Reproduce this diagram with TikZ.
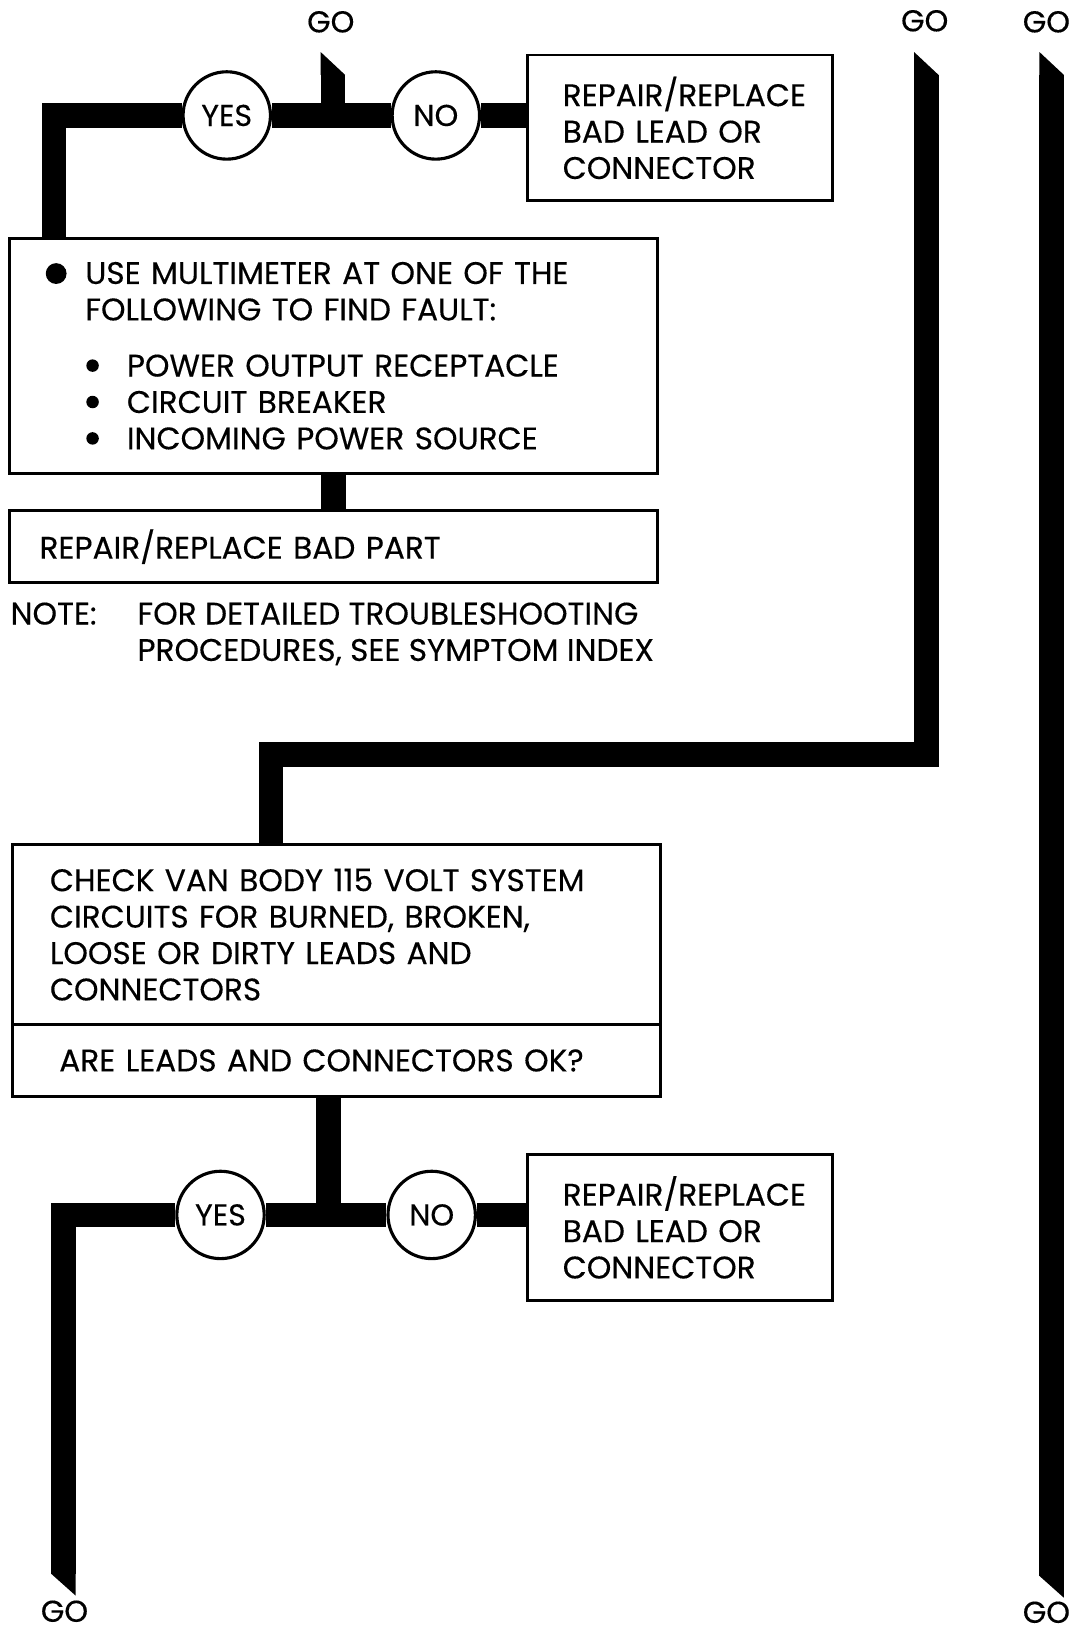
\documentclass[tikz,border=0pt]{standalone}
\usepackage{fontspec}
\setmainfont{Poppins}[FakeBold=0.3]
\newcommand{\bigdot}{\raisebox{0pt}{\tikz\fill (0,0) circle (10pt);}}
\newcommand{\smalldot}{\raisebox{4.5pt}{\tikz\fill (0,0) circle (6pt);}}

\begin{document}
\begin{tikzpicture}[x=1pt,y=-1pt,
  lbl/.style={font=\fontsize{29}{35}\selectfont, inner sep=0pt},
  box/.style={draw, rectangle, line width=2.6pt, outer sep=0pt, inner ysep=0pt,
    align=left, font=\fontsize{30}{35}\selectfont},
  ans/.style={draw, circle, line width=3pt, fill=white, minimum size=84pt,
    inner sep=0pt, font=\fontsize{29}{30}\selectfont},
  bus/.style={line width=23.5pt}]
\path[use as bounding box] (0,0) rectangle (1033,1568);

% first check: answer row
\node[ans] (yes1) at (218,111) {YES};
\node[ans] (no1) at (419,111) {NO};
\node[box, anchor=north west, minimum width=293pt, minimum height=140pt,
  text width=225pt, inner xsep=34pt] (lead1) at (507,53)
  {REPAIR/REPLACE\\BAD LEAD OR\\CONNECTOR};
\node[box, anchor=north west, minimum width=623pt, minimum height=226pt,
  text width=553pt, inner xsep=35pt] (meter) at (9,229)
  {\makebox[38pt][l]{\bigdot}USE MULTIMETER AT ONE OF THE\\
   \hspace*{38pt}FOLLOWING TO FIND FAULT:\\[19pt]
   \hspace*{39pt}\makebox[39pt][l]{\smalldot}POWER OUTPUT RECEPTACLE\\
   \hspace*{39pt}\makebox[39pt][l]{\smalldot}CIRCUIT BREAKER\\
   \hspace*{39pt}\makebox[39pt][l]{\smalldot}INCOMING POWER SOURCE};
\node[box, anchor=north west, minimum width=623pt, minimum height=69pt,
  text width=565pt, inner xsep=29pt] (part) at (9,491)
  {REPAIR/REPLACE BAD PART};
\node[lbl, anchor=north west, align=left, font=\fontsize{30}{35}\selectfont]
  (note) at (10,579)
  {\makebox[122pt][l]{NOTE:}FOR DETAILED TROUBLESHOOTING\\
   \hspace*{122pt}PROCEDURES, SEE SYMPTOM INDEX};

% second check
\node[box, anchor=north west, minimum width=623pt, minimum height=173pt,
  text width=551pt, inner xsep=36pt] (van) at (12,812)
  {CHECK VAN BODY 115 VOLT SYSTEM\\CIRCUITS FOR BURNED, BROKEN,\\
   LOOSE OR DIRTY LEADS AND\\CONNECTORS};
\node[box, anchor=north west, minimum width=623pt, minimum height=69pt,
  text width=533pt, inner xsep=45pt] (ask) at (van.south west)
  {ARE LEADS AND CONNECTORS OK?};
\node[ans] (yes2) at (212,1168) {YES};
\node[ans] (no2) at (415,1168) {NO};
\node[box, anchor=north west, minimum width=293pt, minimum height=140pt,
  text width=225pt, inner xsep=34pt] (lead2) at (507,1110)
  {REPAIR/REPLACE\\BAD LEAD OR\\CONNECTOR};

% go labels
\node[lbl] (go1) at (318,21) {GO};
\node[lbl] (go2) at (889,20) {GO};
\node[lbl] (go3) at (1006,21) {GO};
\node[lbl] (go4) at (62,1549) {GO};
\node[lbl] (go5) at (1006,1550) {GO};

% flow lines
\coordinate (elbow1) at (52,111);
\coordinate (cut1) at (320,72);
\draw[bus] (elbow1 |- meter.north) -- (elbow1) -- (yes1.west);
\draw[bus] (yes1.east) -- (no1.west);
\draw[bus] (no1.east) -- (no1.east -| lead1.west);
\draw[bus] (cut1) -- (cut1 |- yes1);
\fill (cut1) ++(-11.75,0) -- ++(0,-22) -- ++(23.5,22) -- cycle;
\draw[bus] (meter.south -| part.north) -- (part.north);

\coordinate (cut2) at (890.5,72);
\coordinate (elbow2) at (890.5,725.5);
\coordinate (elbow3) at (260.5,725.5);
\draw[bus] (cut2) -- (elbow2) -- (elbow3) -- (elbow3 |- van.north);
\fill (cut2) ++(-11.75,0) -- ++(0,-22) -- ++(23.5,22) -- cycle;

\coordinate (tee2) at (316,1168);
\coordinate (elbow4) at (61,1168);
\coordinate (cut4) at (61,1513);
\draw[bus] (tee2 |- ask.south) -- (tee2);
\draw[bus] (yes2.east) -- (no2.west);
\draw[bus] (no2.east) -- (no2.east -| lead2.west);
\draw[bus] (yes2.west) -- (elbow4) -- (cut4);
\fill (cut4) ++(-11.75,0) -- ++(23.5,0) -- ++(0,21) -- cycle;

\coordinate (cut3) at (1011,72);
\coordinate (cut5) at (1011,1515);
\draw[bus] (cut3) -- (cut5);
\fill (cut3) ++(-11.75,0) -- ++(0,-22) -- ++(23.5,22) -- cycle;
\fill (cut5) ++(-11.75,0) -- ++(23.5,0) -- ++(0,21) -- cycle;
\end{tikzpicture}
\end{document}
